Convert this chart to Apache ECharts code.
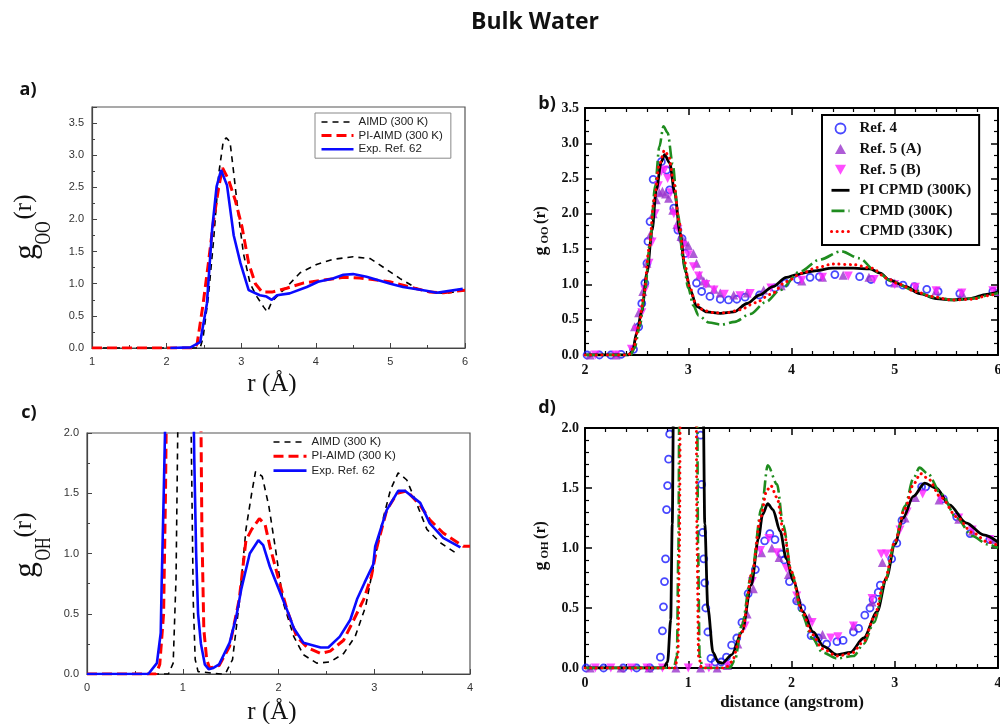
<!DOCTYPE html>
<html><head><meta charset="utf-8">
<script src="https://cdn.jsdelivr.net/npm/echarts@6/dist/echarts.min.js"></script>
<style>html,body{margin:0;padding:0;background:#fff}#c{width:1000px;height:724px}</style>
</head><body><div id="c"></div>
<script>
// ---------- Panel a: g_OO(r), Ref. AIMD / PI-AIMD / Exp ----------
const aAIMD = [[1,0],[2.45,0],[2.49,0.17],[2.56,0.80],[2.63,1.68],[2.70,2.72],[2.76,3.22],[2.80,3.27],[2.85,3.21],[2.90,2.72],[2.96,2.10],[3.03,1.47],[3.12,1.00],[3.21,0.80],[3.30,0.64],[3.35,0.56],[3.41,0.72],[3.52,0.85],[3.61,0.95],[3.79,1.17],[4.01,1.30],[4.23,1.38],[4.50,1.42],[4.73,1.39],[4.90,1.26],[5.13,1.08],[5.35,0.93],[5.53,0.87],[5.75,0.85],[6.0,0.90]];
const aPI = [[1,0],[2.38,0],[2.41,0.07],[2.49,0.69],[2.56,1.32],[2.63,1.99],[2.70,2.51],[2.75,2.80],[2.83,2.62],[2.92,2.30],[3.01,1.89],[3.10,1.32],[3.19,1.00],[3.28,0.87],[3.41,0.87],[3.61,0.93],[3.83,1.01],[4.06,1.05],[4.37,1.10],[4.59,1.09],[4.99,1.03],[5.26,0.95],[5.53,0.87],[5.71,0.86],[6.0,0.90]];
const aExp = [[2.05,0],[2.32,0.01],[2.45,0.09],[2.54,0.69],[2.61,1.84],[2.67,2.51],[2.73,2.77],[2.81,2.53],[2.90,1.75],[2.99,1.32],[3.10,0.90],[3.25,0.82],[3.34,0.80],[3.41,0.75],[3.48,0.82],[3.65,0.85],[3.88,0.95],[4.03,1.03],[4.23,1.08],[4.37,1.14],[4.50,1.15],[4.68,1.11],[5.0,1.00],[5.17,0.95],[5.48,0.89],[5.62,0.86],[5.97,0.92]];

// ---------- Panel b: g_OO(r) ----------
const bRef4 = [[2.02,0],[2.14,0],[2.25,0],[2.35,0.01],[2.47,0.08],[2.52,0.4],[2.55,0.73],[2.58,1.02],[2.60,1.30],[2.61,1.61],[2.63,1.89],[2.66,2.49],[2.74,2.74],[2.79,2.62],[2.82,2.34],[2.86,2.08],[2.90,1.77],[2.94,1.65],[2.97,1.44],[3.08,1.02],[3.13,0.90],[3.21,0.83],[3.31,0.79],[3.39,0.78],[3.47,0.79],[3.55,0.82],[3.69,0.85],[3.84,0.95],[3.94,1.02],[4.06,1.07],[4.18,1.10],[4.27,1.11],[4.42,1.14],[4.66,1.11],[4.77,1.07],[4.95,1.03],[5.08,0.99],[5.19,0.97],[5.31,0.93],[5.42,0.90],[5.63,0.87],[5.95,0.90]];
const bRef5A = [[2.05,0],[2.3,0],[2.48,0.4],[2.52,0.6],[2.56,0.9],[2.6,1.3],[2.63,1.7],[2.66,2.0],[2.69,2.2],[2.72,2.3],[2.75,2.32],[2.78,2.28],[2.81,2.22],[2.85,2.05],[2.89,1.85],[2.93,1.68],[2.97,1.6],[3.0,1.55],[3.05,1.44],[3.08,1.3],[3.11,1.13],[3.15,1.05],[3.18,1.02],[3.25,0.93],[3.31,0.88],[3.44,0.85],[3.57,0.88],[3.73,0.92],[3.9,0.98],[4.1,1.05],[4.3,1.1],[4.5,1.13],[4.75,1.1],[5.0,1.02],[5.2,0.96],[5.4,0.91],[5.65,0.88],[5.97,0.9]];
const bRef5B = [[2.1,0],[2.3,0],[2.45,0.08],[2.5,0.35],[2.55,0.6],[2.58,0.92],[2.62,1.3],[2.65,1.6],[2.68,2.0],[2.71,2.4],[2.74,2.6],[2.77,2.62],[2.8,2.5],[2.83,2.3],[2.86,2.0],[2.9,1.78],[2.95,1.55],[3.0,1.42],[3.05,1.25],[3.1,1.12],[3.17,1.0],[3.25,0.92],[3.35,0.86],[3.5,0.84],[3.6,0.87],[3.8,0.95],[4.1,1.06],[4.3,1.1],[4.55,1.12],[4.8,1.07],[5.0,1.0],[5.2,0.96],[5.4,0.91],[5.65,0.88],[5.95,0.91]];
const bPI = [[2,0],[2.42,0],[2.46,0.05],[2.50,0.31],[2.55,0.62],[2.60,1.16],[2.65,1.77],[2.69,2.34],[2.74,2.74],[2.77,2.84],[2.82,2.72],[2.87,2.29],[2.92,1.73],[2.97,1.21],[3.02,0.92],[3.08,0.69],[3.18,0.61],[3.31,0.59],[3.44,0.61],[3.57,0.73],[3.69,0.85],[3.82,0.97],[3.95,1.10],[4.05,1.14],[4.21,1.19],[4.40,1.23],[4.60,1.23],[4.76,1.22],[4.86,1.16],[4.95,1.06],[5.11,0.97],[5.24,0.87],[5.40,0.80],[5.56,0.78],[5.73,0.80],[5.89,0.86],[6.0,0.89]];
const bC300 = [[2,0],[2.44,0],[2.48,0.1],[2.53,0.4],[2.58,0.9],[2.63,1.6],[2.68,2.4],[2.72,2.95],[2.76,3.24],[2.80,3.15],[2.85,2.7],[2.90,2.0],[2.95,1.35],[3.0,0.95],[3.05,0.7],[3.1,0.56],[3.2,0.46],[3.32,0.43],[3.45,0.47],[3.6,0.58],[3.75,0.75],[3.89,0.92],[4.08,1.18],[4.27,1.35],[4.48,1.47],[4.66,1.37],[4.82,1.18],[4.98,1.04],[5.18,0.92],[5.37,0.82],[5.56,0.78],[5.76,0.80],[5.95,0.86],[6.0,0.88]];
const bC330 = [[2,0],[2.42,0],[2.47,0.1],[2.52,0.4],[2.57,0.85],[2.62,1.5],[2.67,2.2],[2.72,2.7],[2.77,2.9],[2.81,2.82],[2.86,2.45],[2.91,1.9],[2.96,1.35],[3.01,0.98],[3.07,0.74],[3.15,0.63],[3.25,0.6],[3.38,0.6],[3.5,0.64],[3.65,0.74],[3.8,0.86],[3.95,1.04],[4.1,1.16],[4.25,1.24],[4.4,1.29],[4.6,1.28],[4.78,1.23],[4.92,1.09],[5.05,1.0],[5.2,0.9],[5.35,0.83],[5.55,0.78],[5.75,0.79],[5.9,0.84],[6.0,0.88]];

// ---------- Panel c: g_OH(r) ----------
const cAIMD = [[0,0],[0.85,0],[0.90,0.09],[0.93,0.8],[0.955,2.5],[0.98,6],[1.05,6],[1.08,2.5],[1.11,0.6],[1.13,0.12],[1.16,0.02],[1.40,0],[1.45,0.01],[1.52,0.12],[1.59,0.59],[1.66,1.20],[1.72,1.50],[1.76,1.68],[1.83,1.64],[1.90,1.39],[1.97,1.03],[2.05,0.59],[2.16,0.31],[2.26,0.16],[2.40,0.09],[2.54,0.10],[2.68,0.17],[2.80,0.31],[2.91,0.56],[2.99,0.89],[3.08,1.25],[3.17,1.53],[3.25,1.67],[3.34,1.61],[3.44,1.42],[3.55,1.20],[3.69,1.09],[3.86,1.00]];
const cPI = [[0,0],[0.72,0],[0.76,0.08],[0.80,0.5],[0.82,1.5],[0.84,3],[0.87,6],[1.14,6],[1.18,3],[1.20,1.2],[1.22,0.37],[1.25,0.12],[1.28,0.05],[1.38,0.07],[1.49,0.23],[1.59,0.62],[1.66,1.11],[1.72,1.20],[1.80,1.29],[1.86,1.24],[1.91,1.06],[2.02,0.73],[2.09,0.53],[2.19,0.31],[2.30,0.22],[2.44,0.17],[2.54,0.19],[2.68,0.28],[2.78,0.44],[2.89,0.62],[2.97,0.81],[3.03,1.06],[3.13,1.36],[3.24,1.50],[3.34,1.52],[3.48,1.40],[3.58,1.28],[3.72,1.17],[3.93,1.06],[4.0,1.06]];
const cExp = [[0,0],[0.64,0],[0.73,0.09],[0.77,0.34],[0.78,0.76],[0.80,1.45],[0.82,2.2],[0.84,5],[1.08,5],[1.10,3],[1.12,1.8],[1.14,1.0],[1.16,0.5],[1.19,0.25],[1.23,0.08],[1.27,0.04],[1.32,0.05],[1.38,0.08],[1.49,0.26],[1.56,0.48],[1.61,0.70],[1.70,1.00],[1.79,1.11],[1.84,1.07],[1.91,0.89],[2.02,0.67],[2.09,0.53],[2.16,0.38],[2.26,0.26],[2.44,0.22],[2.52,0.22],[2.64,0.31],[2.75,0.45],[2.82,0.62],[2.90,0.76],[2.99,0.91],[3.01,1.06],[3.13,1.36],[3.25,1.52],[3.32,1.52],[3.48,1.42],[3.58,1.25],[3.72,1.13],[3.90,1.05]];

// ---------- Panel d: g_OH(r) ----------
const dRef4 = [[0.01,0],[0.18,0],[0.37,0],[0.50,0],[0.63,0],[0.73,0.09],[0.75,0.31],[0.76,0.51],[0.77,0.72],[0.78,0.91],[0.79,1.32],[0.80,1.52],[0.81,1.74],[0.82,1.95],[1.12,1.94],[1.13,1.53],[1.14,1.13],[1.15,0.91],[1.16,0.71],[1.17,0.50],[1.19,0.30],[1.22,0.08],[1.26,0.05],[1.32,0.05],[1.37,0.09],[1.42,0.19],[1.47,0.25],[1.52,0.38],[1.58,0.62],[1.65,0.82],[1.74,1.06],[1.79,1.12],[1.84,1.07],[1.90,0.95],[1.93,0.90],[1.98,0.72],[2.05,0.56],[2.10,0.50],[2.19,0.27],[2.26,0.25],[2.34,0.20],[2.44,0.22],[2.50,0.23],[2.60,0.30],[2.65,0.33],[2.71,0.44],[2.76,0.50],[2.79,0.57],[2.84,0.63],[2.86,0.69],[2.97,0.91],[3.02,1.04],[3.07,1.23],[3.26,1.51],[3.30,1.51],[3.47,1.41],[3.60,1.26],[3.73,1.12],[3.92,1.07]];
const dRef5A = [[0.05,0],[0.35,0],[0.62,0],[0.88,0],[1.12,0],[1.28,0],[1.38,0.02],[1.48,0.2],[1.57,0.45],[1.63,0.66],[1.71,0.96],[1.81,1.0],[1.88,0.92],[1.97,0.78],[2.06,0.58],[2.17,0.42],[2.3,0.28],[2.6,0.35],[2.78,0.55],[2.88,0.88],[3.1,1.25],[3.2,1.42],[3.43,1.4],[3.62,1.24],[3.75,1.14],[3.95,1.07]];
const dRef5B = [[0.1,0],[0.25,0],[0.45,0],[0.6,0],[0.75,0],[1.0,0],[1.2,0],[1.38,0.02],[1.55,0.35],[1.62,0.72],[1.7,0.98],[1.78,1.08],[1.86,0.96],[1.95,0.83],[2.05,0.6],[2.2,0.38],[2.38,0.25],[2.45,0.26],[2.6,0.35],[2.78,0.58],[2.87,0.95],[2.92,0.95],[3.05,1.15],[3.12,1.3],[3.27,1.45],[3.45,1.4],[3.62,1.25],[3.75,1.15],[3.92,1.07]];
const dPI = [[0,0],[0.76,0],[0.80,0.05],[0.83,0.4],[0.845,1.2],[0.86,2.5],[0.88,8],[1.12,8],[1.145,2.2],[1.16,1.2],[1.19,0.5],[1.24,0.13],[1.29,0.05],[1.33,0.04],[1.42,0.11],[1.52,0.30],[1.61,0.69],[1.68,1.08],[1.72,1.28],[1.77,1.37],[1.82,1.32],[1.89,1.14],[1.95,0.91],[2.02,0.72],[2.11,0.47],[2.21,0.30],[2.31,0.18],[2.44,0.11],[2.57,0.13],[2.70,0.25],[2.83,0.47],[2.92,0.75],[3.0,1.03],[3.08,1.25],[3.18,1.43],[3.29,1.54],[3.40,1.50],[3.53,1.36],[3.69,1.21],[3.86,1.11],[4.0,1.05]];
const dC300 = [[0,0],[0.86,0],[0.89,0.1],[0.905,1.0],[0.915,2.5],[0.93,8],[1.07,8],[1.085,2.5],[1.095,1.0],[1.11,0.1],[1.14,0],[1.40,0],[1.45,0.06],[1.52,0.36],[1.61,0.77],[1.71,1.33],[1.77,1.69],[1.86,1.53],[1.92,1.19],[2.0,0.8],[2.1,0.45],[2.2,0.25],[2.3,0.13],[2.44,0.08],[2.6,0.1],[2.7,0.2],[2.8,0.38],[2.9,0.7],[3.0,1.05],[3.1,1.35],[3.18,1.58],[3.24,1.67],[3.32,1.62],[3.45,1.45],[3.6,1.25],[3.75,1.1],[3.9,1.03],[4.0,1.0]];
const dC330 = [[0,0],[0.87,0],[0.90,0.1],[0.915,1.0],[0.925,2.5],[0.94,8],[1.06,8],[1.075,2.5],[1.085,1.0],[1.10,0.1],[1.13,0],[1.36,0],[1.42,0.05],[1.52,0.3],[1.62,0.8],[1.7,1.25],[1.76,1.48],[1.80,1.52],[1.86,1.42],[1.92,1.15],[2.0,0.8],[2.1,0.48],[2.2,0.28],[2.3,0.16],[2.44,0.1],[2.58,0.12],[2.7,0.22],[2.8,0.42],[2.9,0.72],[3.0,1.05],[3.1,1.33],[3.18,1.53],[3.25,1.62],[3.32,1.58],[3.45,1.42],[3.6,1.26],[3.75,1.13],[3.9,1.05],[4.0,1.02]];

// ---------- Tick / range settings ----------
const aX = {min:1, max:6, interval:1};  const aY = {min:0, max:3.75, interval:0.5};
const bX = {min:2, max:6, interval:1};  const bY = {min:0, max:3.5, interval:0.5};
const cX = {min:0, max:4, interval:1};  const cY = {min:0, max:2, interval:0.5};
const dX = {min:0, max:4, interval:1};  const dY = {min:0, max:2, interval:0.5};

const SANS = 'Liberation Sans', SERIF = 'Liberation Serif';
const fmt1 = v => v.toFixed(1);

function thinAxis(grid, r, pos, isY, minorSplit) {
  return Object.assign({
    gridIndex: grid, type: 'value', position: pos,
    axisLine: {show: true, onZero: false, lineStyle: {color: '#444', width: 1.2}},
    axisTick: {show: true, inside: true, length: 5, lineStyle: {color: '#444', width: 1}},
    minorTick: {show: true, splitNumber: minorSplit, length: 3, lineStyle: {color: '#444', width: 1}},
    axisLabel: {show: true, margin: 8, fontSize: 11, color: '#333', fontFamily: SANS,
                formatter: isY ? fmt1 : (v => String(v)), showMaxLabel: isY ? (r.max % r.interval === 0) : true},
    splitLine: {show: false}, minorSplitLine: {show: false}
  }, r);
}
function boldAxis(grid, r, pos, isY, minorSplit, labels) {
  return Object.assign({
    gridIndex: grid, type: 'value', position: pos,
    axisLine: {show: true, onZero: false, lineStyle: {color: '#000', width: 2}},
    axisTick: {show: true, inside: true, length: 7, lineStyle: {color: '#000', width: 1.5}},
    minorTick: {show: true, splitNumber: minorSplit, length: 4, lineStyle: {color: '#000', width: 1.2}},
    axisLabel: {show: labels, margin: isY ? 6 : 8, fontSize: 14, fontWeight: 'bold', color: '#111', fontFamily: SERIF,
                formatter: isY ? fmt1 : (v => String(v))},
    splitLine: {show: false}, minorSplitLine: {show: false}
  }, r);
}

const xAxis = [
  thinAxis(0, aX, 'bottom', false, 2),
  boldAxis(1, bX, 'bottom', false, 5, true),
  boldAxis(1, bX, 'top', false, 5, false),
  thinAxis(2, cX, 'bottom', false, 2),
  boldAxis(3, dX, 'bottom', false, 5, true),
  boldAxis(3, dX, 'top', false, 5, false)
];
const yAxis = [
  thinAxis(0, aY, 'left', true, 2),
  boldAxis(1, bY, 'left', true, 3, true),
  boldAxis(1, bY, 'right', true, 3, false),
  thinAxis(2, cY, 'left', true, 2),
  boldAxis(3, dY, 'left', true, 5, true),
  boldAxis(3, dY, 'right', true, 5, false)
];

const S_AIMD = {color: '#000', width: 1.6, type: [6, 5]};
const S_PIAIMD = {color: '#ff0000', width: 3, type: [10, 5]};
const S_EXP = {color: '#0a0aff', width: 2.6, type: 'solid'};
const S_PICP = {color: '#000', width: 2.8, type: 'solid'};
const S_CP300 = {color: '#1f8c1f', width: 2.6, type: [13, 4, 2, 4]};
const S_CP330 = {color: '#ff0000', width: 3, type: [0.1, 5.5], cap: 'round'};

function line(name, data, xi, yi, style, smooth) {
  return {type: 'line', name, data, xAxisIndex: xi, yAxisIndex: yi, symbol: 'none', showSymbol: false,
          smooth: smooth ? 0.3 : false, smoothMonotone: smooth ? 'x' : null, lineStyle: style,
          itemStyle: {color: 'rgba(0,0,0,0)', borderWidth: 0, borderColor: 'rgba(0,0,0,0)'},
          clip: true, silent: true};
}
function circles(data, xi, yi) {
  return {type: 'scatter', name: 'Ref. 4', data, xAxisIndex: xi, yAxisIndex: yi, symbol: 'circle', symbolSize: 7,
          itemStyle: {color: 'rgba(255,255,255,0)', borderColor: '#1a1aff', borderWidth: 1.8}, clip: true};
}
function tri(name, data, xi, yi, color, rot) {
  return {type: 'scatter', name, data, xAxisIndex: xi, yAxisIndex: yi, symbol: 'triangle', symbolSize: 9,
          symbolRotate: rot, itemStyle: {color}, clip: true};
}

const series = [
  line('AIMD (300 K)', aAIMD, 0, 0, S_AIMD),
  line('PI-AIMD (300 K)', aPI, 0, 0, S_PIAIMD),
  line('Exp. Ref. 62', aExp, 0, 0, S_EXP),

  circles(bRef4, 1, 1),
  tri('Ref. 5 (A)', bRef5A, 1, 1, '#9a33cc', 0),
  tri('Ref. 5 (B)', bRef5B, 1, 1, '#ff22ff', 180),
  line('PI CPMD (300K)', bPI, 1, 1, S_PICP, true),
  line('CPMD (300K)', bC300, 1, 1, S_CP300, true),
  line('CPMD (330K)', bC330, 1, 1, S_CP330, true),

  line('AIMD (300 K)', cAIMD, 3, 3, S_AIMD),
  line('PI-AIMD (300 K)', cPI, 3, 3, S_PIAIMD),
  line('Exp. Ref. 62', cExp, 3, 3, S_EXP),

  circles(dRef4, 4, 4),
  tri('Ref. 5 (A)', dRef5A, 4, 4, '#9a33cc', 0),
  tri('Ref. 5 (B)', dRef5B, 4, 4, '#ff22ff', 180),
  line('PI CPMD (300K)', dPI, 4, 4, S_PICP, true),
  line('CPMD (300K)', dC300, 4, 4, S_CP300, true),
  line('CPMD (330K)', dC330, 4, 4, S_CP330, true)
];

const legAC = ['AIMD (300 K)', 'PI-AIMD (300 K)', 'Exp. Ref. 62'];
const legB = [
  {name: 'Ref. 4', icon: 'circle'},
  {name: 'Ref. 5 (A)', icon: 'path://M5,0L10,9L0,9Z'},
  {name: 'Ref. 5 (B)', icon: 'path://M0,0L10,0L5,9Z'},
  'PI CPMD (300K)', 'CPMD (300K)', 'CPMD (330K)'
];
const legendBase = {orient: 'vertical', selectedMode: false, align: 'left',
  lineStyle: {width: 'inherit'}, itemStyle: {borderWidth: 'inherit'}};

const legend = [
  Object.assign({}, legendBase, {data: legAC, left: 315, top: 113, padding: [3, 8, 3, 5],
    itemWidth: 32, itemHeight: 10, itemGap: 1.6, borderColor: '#888', borderWidth: 1,
    textStyle: {fontFamily: SANS, fontSize: 11.5, color: '#222', lineHeight: 12}}),
  Object.assign({}, legendBase, {data: legAC, left: 272, top: 436, padding: 0,
    itemWidth: 33, itemHeight: 10, itemGap: 2.3,
    textStyle: {fontFamily: SANS, fontSize: 11.5, color: '#222', lineHeight: 12}}),
  Object.assign({}, legendBase, {data: legB, left: 822, top: 115, padding: [6, 8, 6, 8],
    itemWidth: 18, itemHeight: 10, itemGap: 5.6, borderColor: '#000', borderWidth: 2,
    textStyle: {fontFamily: SERIF, fontSize: 15, fontWeight: 'bold', color: '#111', lineHeight: 14, padding: [0, 0, 0, 5]}})
];

function txt(x, y, text, font, opts) {
  return Object.assign({type: 'text', x, y, silent: true,
    style: {text, font, fill: '#111', align: 'center', verticalAlign: 'middle'}}, opts || {});
}
const R90 = Math.PI / 2;
const graphic = [
  txt(535, 22, 'Bulk Water', 'bold 23px "Open Sans"'),
  txt(28, 90, 'a)', 'bold 18px "Open Sans"'),
  txt(547, 104, 'b)', 'bold 18px "Open Sans"'),
  txt(29, 413, 'c)', 'bold 18px "Open Sans"'),
  txt(547, 408, 'd)', 'bold 18px "Open Sans"'),
  // panel a y title
  txt(27, 252, 'g', '31px "Liberation Serif"', {rotation: R90}),
  txt(44, 233, 'OO', '16px "Liberation Serif"', {rotation: R90, scaleY: 1.5}),
  txt(24, 207, '(r)', '25px "Liberation Serif"', {rotation: R90}),
  txt(272, 384, 'r (Å)', '25px "Liberation Serif"'),
  // panel c y title
  txt(27, 570, 'g', '31px "Liberation Serif"', {rotation: R90}),
  txt(44, 549, 'OH', '16px "Liberation Serif"', {rotation: R90, scaleY: 1.5}),
  txt(24, 525, '(r)', '25px "Liberation Serif"', {rotation: R90}),
  txt(272, 712, 'r (Å)', '25px "Liberation Serif"'),
  // panel b y title
  txt(541, 251, 'g', 'bold 18px "Liberation Serif"', {rotation: R90}),
  txt(545, 235, 'OO', 'bold 11px "Liberation Serif"', {rotation: R90}),
  txt(541, 215, '(r)', 'bold 16px "Liberation Serif"', {rotation: R90}),
  // panel d y title
  txt(541, 566, 'g', 'bold 18px "Liberation Serif"', {rotation: R90}),
  txt(545, 550, 'OH', 'bold 11px "Liberation Serif"', {rotation: R90}),
  txt(541, 530, '(r)', 'bold 16px "Liberation Serif"', {rotation: R90}),
  txt(792, 703, 'distance (angstrom)', 'bold 17px "Liberation Serif"')
];

const option = {
  animation: false,
  backgroundColor: '#fff',
  grid: [
    {left: 92, top: 107, width: 373, height: 241, show: true, borderColor: '#555', borderWidth: 1.2, outerBoundsMode: 'none'},
    {left: 585, top: 108, width: 413, height: 247, outerBoundsMode: 'none'},
    {left: 87, top: 433, width: 383, height: 241, show: true, borderColor: '#555', borderWidth: 1.2, outerBoundsMode: 'none'},
    {left: 585, top: 428, width: 413, height: 240, outerBoundsMode: 'none'}
  ],
  xAxis, yAxis, series, legend, graphic
};
const chart = echarts.init(document.getElementById('c'), null, {renderer: 'canvas'});
chart.setOption(option);
</script></body></html>
